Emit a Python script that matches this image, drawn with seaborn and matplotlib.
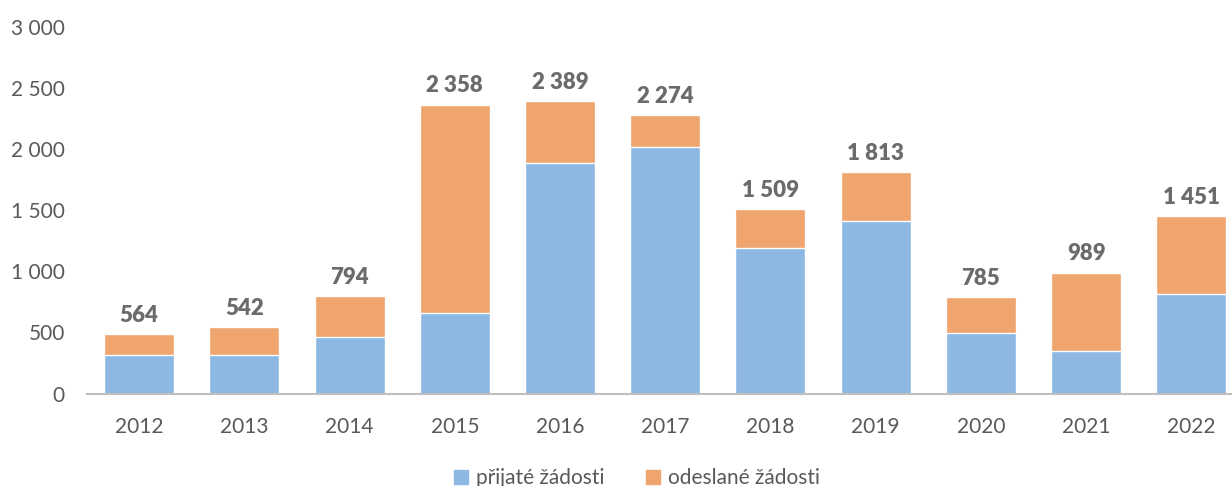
import numpy as np
import pandas as pd
import seaborn as sns
import matplotlib.pyplot as plt
from matplotlib.patches import Patch

# data
years = ['2012', '2013', '2014', '2015', '2016', '2017', '2018', '2019', '2020', '2021', '2022']
prijate = [314, 311, 461, 654, 1881, 2011, 1189, 1410, 496, 347, 815]
odeslane = [172, 229, 332, 1706, 507, 262, 319, 400, 289, 640, 632]
total_labels = [564, 542, 794, 2358, 2389, 2274, 1509, 1813, 785, 989, 1451]

df = pd.DataFrame({'rok': years, 'prijate': prijate, 'odeslane': odeslane})
df['celkem'] = df['prijate'] + df['odeslane']

sns.set_style('white')
plt.rcParams['font.family'] = ['Lato', 'DejaVu Sans']

blue = '#8DB8E1'
orange = '#F0A46E'
txt = '#595959'

fig = plt.figure(figsize=(12.32, 4.86), dpi=100)
ax = fig.add_axes([86.5 / 1232, 92.5 / 486, 1157.5 / 1232, 367 / 486])

# stacked: total in orange, then the bottom part in blue over it
sns.barplot(data=df, x='rok', y='celkem', color=orange, width=0.665, saturation=1, ax=ax)
sns.barplot(data=df, x='rok', y='prijate', color=blue, width=0.665, saturation=1, ax=ax)

for i, (val, lab) in enumerate(zip(df['celkem'], total_labels)):
    s = f'{lab:,}'.replace(',', ' ')
    ax.annotate(s, (i, val), xytext=(0, 6), textcoords='offset points',
                ha='center', va='bottom', fontsize=16, fontweight='heavy', color='#6B6B6B')

ax.set_ylim(0, 3000)
ax.set_xlim(-0.5, len(years) - 0.5)
ax.set_yticks(range(0, 3001, 500))
ax.set_yticklabels([f'{v:,}'.replace(',', ' ') for v in range(0, 3001, 500)])
ax.set_xlabel('')
ax.set_ylabel('')
ax.tick_params(axis='y', length=0, pad=15.5, labelsize=15, labelcolor=txt)
ax.tick_params(axis='x', length=0, pad=17, labelsize=15, labelcolor=txt)

for side in ['left', 'right', 'top']:
    ax.spines[side].set_visible(False)
ax.spines['bottom'].set_color('#BFBFBF')
ax.spines['bottom'].set_linewidth(1.5)

handles = [Patch(color=blue, label='přijaté žádosti'), Patch(color=orange, label='odeslané žádosti')]
fig.legend(handles=handles, loc='center', bbox_to_anchor=(637 / 1232, 1 - 478 / 486), ncol=2,
           frameon=False, fontsize=15, labelcolor=txt, handlelength=0.65, handleheight=0.65,
           handletextpad=0.4, columnspacing=2.0)

fig.savefig('out.png', dpi=100)
